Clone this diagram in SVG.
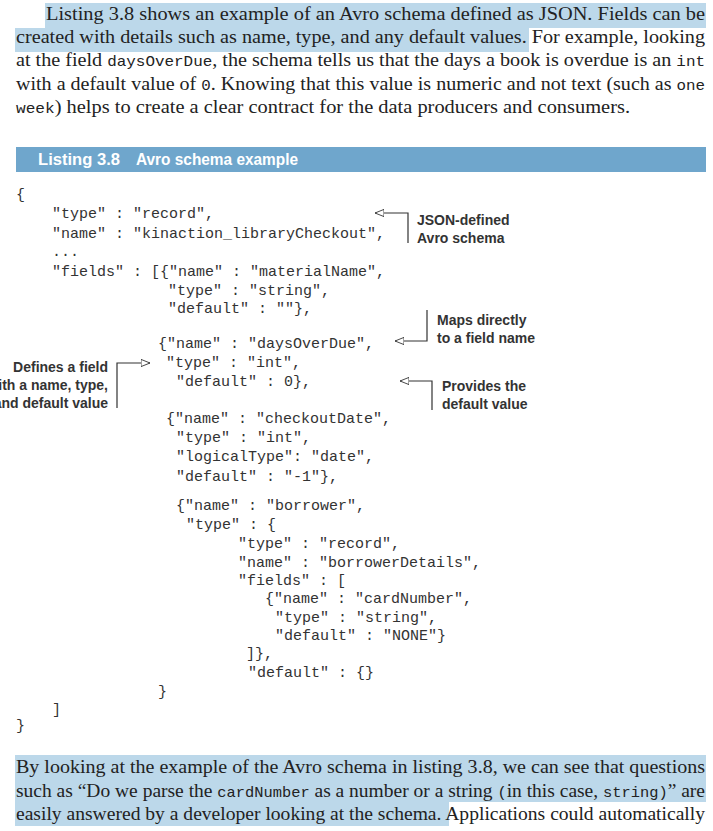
<svg xmlns="http://www.w3.org/2000/svg" width="713" height="831" viewBox="0 0 713 831">
<style>
.p{font-family:"Liberation Serif",serif;font-size:19px;fill:#222}
.m{font-family:"Liberation Mono",monospace;font-size:15px}
.c{font-family:"Liberation Mono",monospace;font-size:15px;fill:#333;white-space:pre}
.a{font-family:"Liberation Sans",sans-serif;font-size:14px;font-weight:bold;fill:#333}
.hl{fill:#bcd8ea}
.ln{fill:none;stroke:#333;stroke-width:1.2}
</style>
<defs>
<marker id="ar" viewBox="0 0 10 10" refX="10" refY="5" markerWidth="9" markerHeight="9" orient="auto" markerUnits="userSpaceOnUse">
<path d="M0,1 L10,5 L0,9 Z" fill="#fff" stroke="#333" stroke-width="1"/>
</marker>
</defs>
<rect width="713" height="831" fill="#fff"/>
<g id="para-top">
<rect class="hl" x="45" y="3" width="661" height="25"/>
<rect class="hl" x="15" y="28" width="514" height="24"/>
<text class="p" x="46" y="20" textLength="659" lengthAdjust="spacingAndGlyphs">Listing 3.8 shows an example of an Avro schema defined as JSON. Fields can be</text>
<text class="p" x="16" y="43" textLength="689" lengthAdjust="spacingAndGlyphs">created with details such as name, type, and any default values. For example, looking</text>
<text class="p" x="16" y="66" textLength="689" lengthAdjust="spacingAndGlyphs">at the field <tspan class="m">daysOverDue</tspan>, the schema tells us that the days a book is overdue is an <tspan class="m">int</tspan></text>
<text class="p" x="16" y="90" textLength="689" lengthAdjust="spacingAndGlyphs">with a default value of <tspan class="m">0</tspan>. Knowing that this value is numeric and not text (such as <tspan class="m">one</tspan></text>
<text class="p" x="16" y="113" textLength="614" lengthAdjust="spacingAndGlyphs"><tspan class="m">week</tspan>) helps to create a clear contract for the data producers and consumers.</text>
</g>
<g id="listing-bar">
<rect x="16" y="147" width="690" height="25" fill="#6fa6cc"/>
<text x="38" y="165" font-family="'Liberation Sans',sans-serif" font-size="16" font-weight="bold" fill="#fff"><tspan textLength="82" lengthAdjust="spacingAndGlyphs">Listing 3.8</tspan><tspan x="136" textLength="162" lengthAdjust="spacingAndGlyphs">Avro schema example</tspan></text>
</g>
<g id="code">
<text class="c" x="16" y="199">{</text>
<text class="c" x="52" y="218">"type" : "record",</text>
<text class="c" x="52" y="238">"name" : "kinaction_libraryCheckout",</text>
<text class="c" x="52" y="256">...</text>
<text class="c" x="52" y="276">"fields" : [{"name" : "materialName",</text>
<text class="c" x="168" y="295">"type" : "string",</text>
<text class="c" x="168" y="313">"default" : ""},</text>
<text class="c" x="158" y="348">{"name" : "daysOverDue",</text>
<text class="c" x="166" y="367">"type" : "int",</text>
<text class="c" x="176" y="386">"default" : 0},</text>
<text class="c" x="166" y="423">{"name" : "checkoutDate",</text>
<text class="c" x="176" y="442">"type" : "int",</text>
<text class="c" x="176" y="461">"logicalType": "date",</text>
<text class="c" x="176" y="481">"default" : "-1"},</text>
<text class="c" x="176" y="510">{"name" : "borrower",</text>
<text class="c" x="186" y="529">"type" : {</text>
<text class="c" x="238" y="548">"type" : "record",</text>
<text class="c" x="238" y="567">"name" : "borrowerDetails",</text>
<text class="c" x="238" y="585">"fields" : [</text>
<text class="c" x="265" y="603">{"name" : "cardNumber",</text>
<text class="c" x="275" y="622">"type" : "string",</text>
<text class="c" x="275" y="640">"default" : "NONE"}</text>
<text class="c" x="246" y="658">]},</text>
<text class="c" x="248" y="677">"default" : {}</text>
<text class="c" x="158" y="696">}</text>
<text class="c" x="52" y="714">]</text>
<text class="c" x="16" y="730">}</text>
</g>
<g id="connectors">
<path class="ln" d="M408,243 V213 H375" marker-end="url(#ar)"/>
<path class="ln" d="M427,310 V341 H395" marker-end="url(#ar)"/>
<path class="ln" d="M432,410 V381 H400" marker-end="url(#ar)"/>
<path class="ln" d="M117,408 V363 H150" marker-end="url(#ar)"/>
</g>
<g id="note-json">
<text class="a" x="417" y="225">JSON-defined</text>
<text class="a" x="417" y="243">Avro schema</text>
</g>
<g id="note-maps">
<text class="a" x="437" y="325">Maps directly</text>
<text class="a" x="437" y="343">to a field name</text>
</g>
<g id="note-default">
<text class="a" x="442" y="391">Provides the</text>
<text class="a" x="442" y="409">default value</text>
</g>
<g id="note-defines">
<text class="a" x="108" y="372" text-anchor="end">Defines a field</text>
<text class="a" x="108" y="390" text-anchor="end">with a name, type,</text>
<text class="a" x="108" y="408" text-anchor="end">and default value</text>
</g>
<g id="para-bottom">
<rect class="hl" x="15" y="755" width="691" height="24"/>
<rect class="hl" x="15" y="779" width="691" height="23"/>
<rect class="hl" x="15" y="802" width="434" height="24"/>
<text class="p" x="16" y="773" textLength="689" lengthAdjust="spacingAndGlyphs">By looking at the example of the Avro schema in listing 3.8, we can see that questions</text>
<text class="p" x="16" y="797" textLength="689" lengthAdjust="spacingAndGlyphs">such as “Do we parse the <tspan class="m">cardNumber</tspan> as a number or a string <tspan class="m">(</tspan>in this case, <tspan class="m">string)</tspan>” are</text>
<text class="p" x="16" y="820" textLength="689" lengthAdjust="spacingAndGlyphs">easily answered by a developer looking at the schema. Applications could automatically</text>
</g>
</svg>
